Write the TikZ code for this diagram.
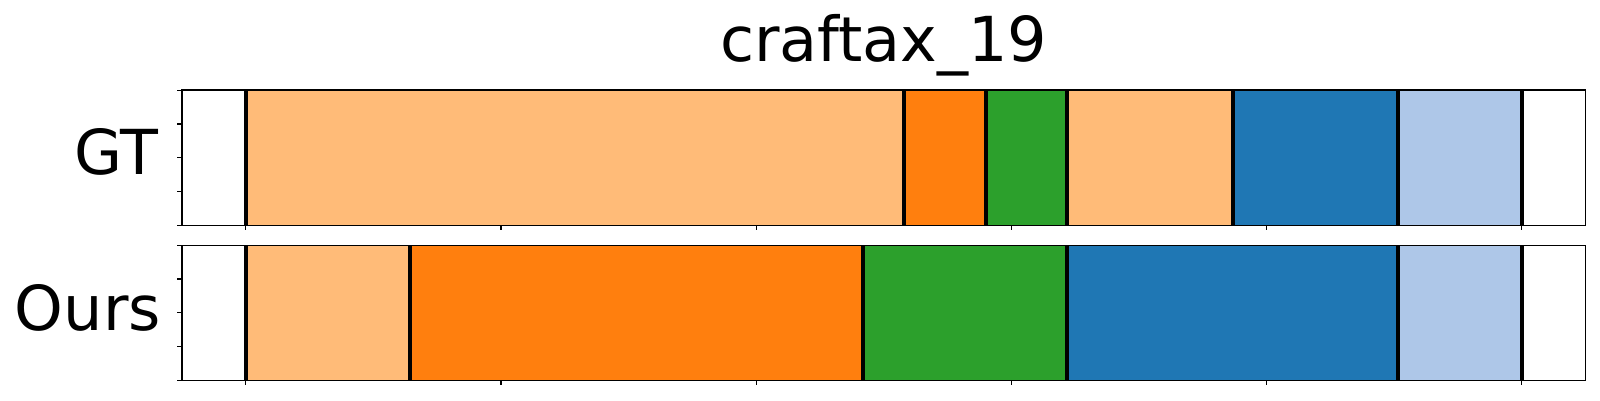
\documentclass[tikz,border=0pt]{standalone}
\usepackage{fontspec}
\setmainfont{DejaVu Sans}
\definecolor{lightorange}{HTML}{FFBB78}
\definecolor{darkorange}{HTML}{FF7F0E}
\definecolor{tabgreen}{HTML}{2CA02C}
\definecolor{tabblue}{HTML}{1F77B4}
\definecolor{lightblue}{HTML}{AEC7E8}
\begin{document}
\begin{tikzpicture}[
  x=1.276pt, y=-0.5pt,
  every node/.style = {inner sep=0pt, font=\fontsize{31}{31}\selectfont},
  frame/.style = {draw=black, line width=0.8pt},
  cut/.style = {draw=black, line width=2pt},
  tick/.style = {draw=black, line width=0.6pt}
  ]
  \useasboundingbox (-96.28,0) rectangle (530.67,400);
  % GT row
  \foreach \a/\b/\c in {0/258/lightorange, 258/290/darkorange, 290/322/tabgreen,
      322/387/lightorange, 387/451.5/tabblue, 451.5/500/lightblue}
    \fill[\c] (\a,90.3) rectangle (\b,225.3);
  \foreach \x in {0,258,290,322,387,451.5,500}
    \draw[cut] (\x,90.3) -- (\x,225.3);
  % Ours row
  \foreach \a/\b/\c in {0/64.4/lightorange, 64.4/242/darkorange, 242/322/tabgreen,
      322/451.5/tabblue, 451.5/500/lightblue}
    \fill[\c] (\a,245.3) rectangle (\b,380.3);
  \foreach \x in {0,64.4,242,322,451.5,500}
    \draw[cut] (\x,245.3) -- (\x,380.3);
  % frames and ticks
  \foreach \t in {90.3,245.3} {
    \draw[frame] (-25,\t) rectangle (525,\t+135);
    \foreach \y in {0,33.75,67.5,101.25,135}
      \draw[tick] (-25,\t+\y) -- ++(-1.96,0);
    \foreach \x in {0,100,...,500}
      \draw[tick] (\x,\t+135) -- ++(0,5);
  }
  % labels
  \node[anchor=base] (title) at (250,61.7) {craftax\_19};
  \node[anchor=base east] (gt) at (-34.0,175) {GT};
  \node[anchor=base east] (ours) at (-33.1,330) {Ours};
\end{tikzpicture}
\end{document}
